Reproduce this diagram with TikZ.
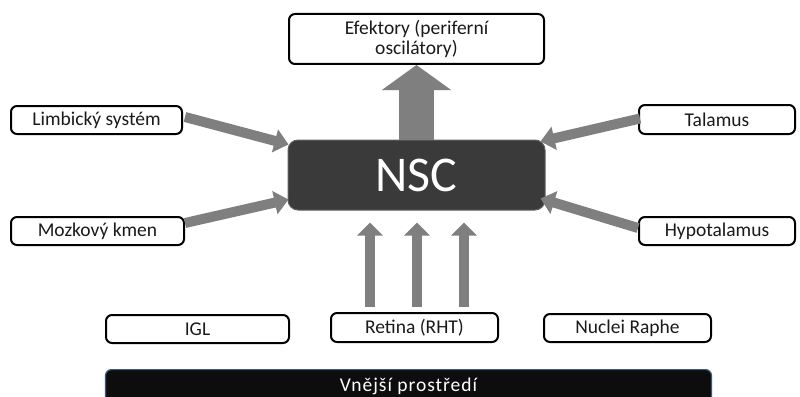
\documentclass[tikz,border=0pt]{standalone}
\usepackage{fontspec}
\setmainfont{Carlito}
\newfontfamily\envfont[LetterSpace=5]{Carlito}
\usetikzlibrary{arrows.meta,calc}
\definecolor{arrowgray}{HTML}{7F7F7F}
\definecolor{nscfill}{HTML}{3A3A3A}
\definecolor{envfill}{HTML}{0D0D0D}
\definecolor{envborder}{HTML}{3E5A7A}
\definecolor{labeltext}{HTML}{1A1A1A}
\tikzset{
  box/.style={draw=black, line width=2pt, rounded corners=6pt, fill=white, inner sep=0pt,
              text=labeltext, font=\fontsize{19.5}{20}\selectfont, align=center},
  fatarrow/.style={draw=arrowgray, line width=10pt, -{Triangle[width=23pt,length=14pt]}},
  bigarrow/.style={draw=arrowgray, line width=35pt, -{Triangle[width=68pt,length=25pt]}},
}
\begin{document}
\begin{tikzpicture}[x=1pt,y=-1pt]
\clip (0,0) rectangle (800,396);
\useasboundingbox (0,0) rectangle (800,396);
\fill[white] (0,0) rectangle (800,396);

% nodes
\node[box, minimum width=255pt, minimum height=50pt] (eff) at (416.5,39) {Efektory (periferní\\oscilátory)};
\node[draw=nscfill!80!white, line width=1pt, fill=nscfill, rounded corners=10pt, minimum width=257pt, minimum height=70pt,
      text=white, font=\fontsize{50}{52}\selectfont] (nsc) at (416.5,175) {NSC};
\node[box, minimum width=171pt, minimum height=28pt] (limb) at (96.5,120) {Limbický systém};
\node[box, minimum width=173pt, minimum height=28pt] (mozk) at (97.5,231) {Mozkový kmen};
\node[box, minimum width=156pt, minimum height=29pt] (tal) at (717,119.5) {Talamus};
\node[box, minimum width=156pt, minimum height=28pt] (hypo) at (717,231) {Hypotalamus};
\node[box, minimum width=183pt, minimum height=28pt] (igl) at (197.5,329) {IGL};
\node[box, minimum width=167pt, minimum height=29pt] (ret) at (414.5,327.5) {Retina (RHT)};
\node[box, minimum width=167pt, minimum height=28pt] (nuc) at (627.5,328) {Nuclei Raphe};
\node[draw=envborder, line width=1.2pt, fill=envfill, rounded corners=6pt, minimum width=606pt, minimum height=50pt,
      anchor=north, inner sep=0pt] (env) at (408.5,369) {};
\node[text=white, font=\envfont\fontsize{19.5}{20}\selectfont, inner sep=0pt] (envlabel) at (408.5,386) {Vnější prostředí};

% arrows
\draw[bigarrow] (nsc.north) -- (eff.south);
\draw[fatarrow] ($(limb.east)+(2,-3)$) -- ($(nsc.north west)+(1,5)$);
\draw[fatarrow] ($(mozk.east)+(0,-8)$) -- ($(nsc.south west)+(1,-11)$);
\draw[fatarrow] ($(tal.west)+(2,-1)$) -- ($(nsc.north east)+(-5,2)$);
\draw[fatarrow] ($(hypo.west)+(0,-3)$) -- ($(nsc.south east)+(-5,-12)$);
\draw[fatarrow, -{Triangle[width=25pt,length=13pt]}] ($(ret.north)+(-44.5,-5)$) -- ($(nsc.south)+(-46.5,12)$);
\draw[fatarrow, -{Triangle[width=25pt,length=13pt]}] ($(ret.north)+(2.5,-5)$) -- ($(nsc.south)+(0.5,12)$);
\draw[fatarrow, -{Triangle[width=25pt,length=13pt]}] ($(ret.north)+(49.5,-5)$) -- ($(nsc.south)+(47.5,12)$);
\end{tikzpicture}
\end{document}
